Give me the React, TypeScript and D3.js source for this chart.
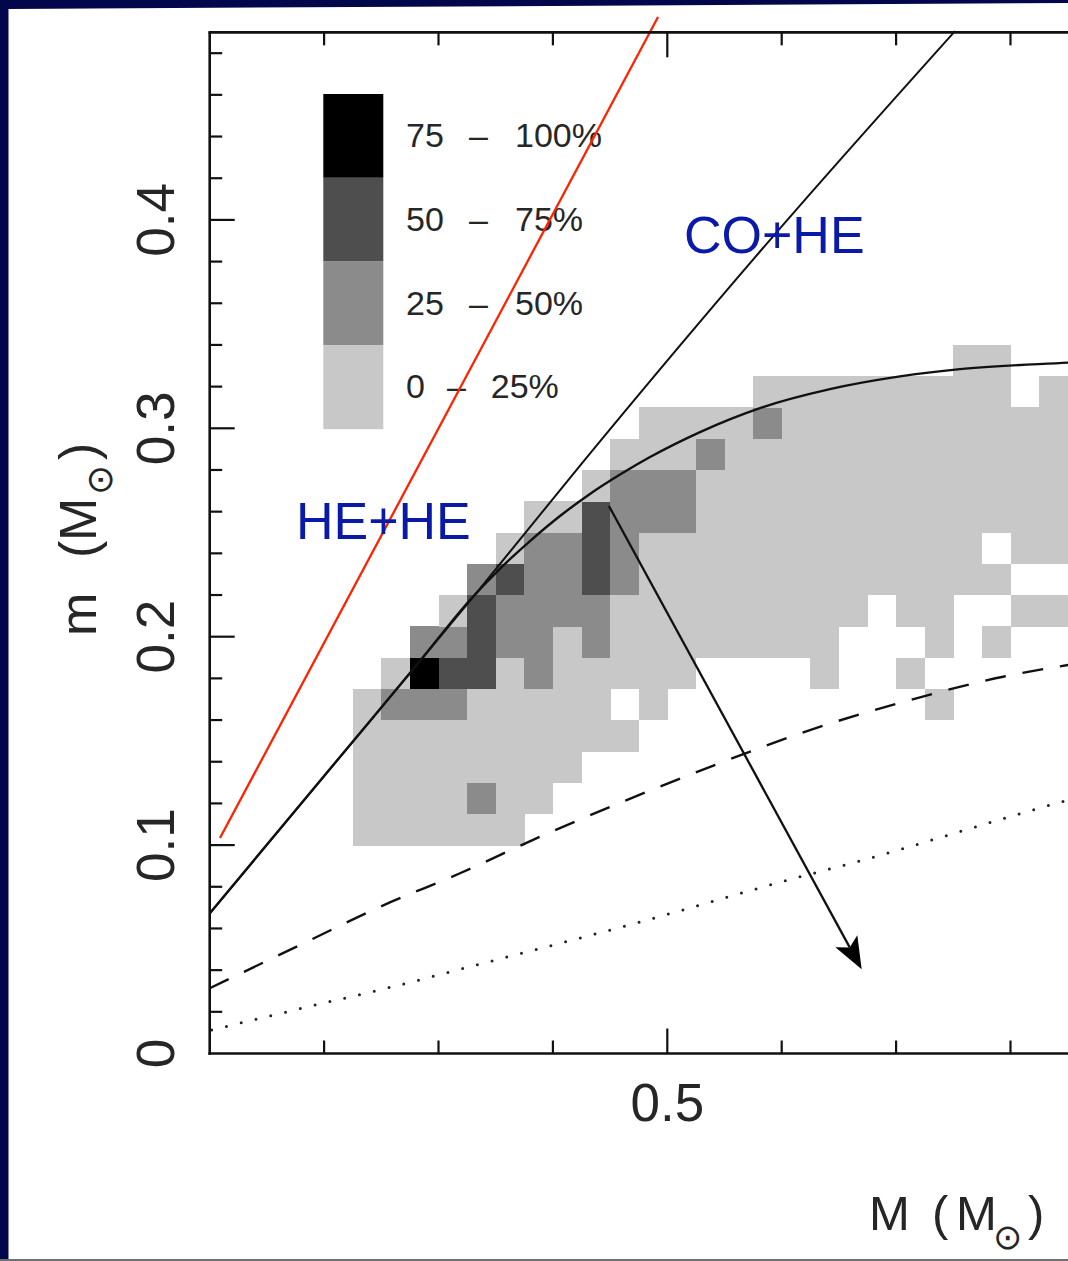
import React from 'react';
import * as d3 from 'd3';

// ---------- DATA ----------
// Heat map: rows from m = 0.100 upward (step 0.015), columns from M = 0.225 (step 0.025)
// '.' = no systems, 1 = 0-25%, 2 = 25-50%, 3 = 50-75%, 4 = 75-100%
const HEAT_M_START = 0.225;
const HEAT_M_STEP = 0.025;
const HEAT_m_START = 0.1;
const HEAT_m_STEP = 0.015;
const HEAT_ROWS: string[] = [
  '111111...................',
  '1111211..................',
  '11111111.................',
  '1111111111...............',
  '122211111.1.........1....',
  '.14331211111....1..1.....',
  '..223221211111111...1.1..',
  '...132222111111111.11..11',
  '....2322321111111111111..',
  '.....12232111111111111.11',
  '......1132221111111111111',
  '........12221111111111111',
  '.........1112111111111111',
  '..........111121111111111',
  '..............111111111.1',
  '.....................11..',
];

const LEVEL_COLORS = ['#c8c8c8', '#8b8b8b', '#4e4e4e', '#000000'];
const LEGEND_LOW = ['75', '50', '25', '0'];
const LEGEND_HIGH = ['100%', '75%', '50%', '25%'];
const LEGEND_LEVELS = [4, 3, 2, 1];

// curved solid line
const CURVE_M = [0.1003, 0.2139, 0.2838, 0.3275, 0.3538, 0.38, 0.4062, 0.4324, 0.4587, 0.4849, 0.5286, 0.581, 0.6422, 0.7034, 0.7559, 0.8503, 0.8783];
const CURVE_m = [0.0674, 0.1423, 0.1883, 0.2176, 0.2327, 0.2459, 0.2579, 0.2685, 0.2778, 0.2862, 0.2982, 0.3097, 0.3188, 0.3249, 0.3284, 0.3315, 0.3323];

// near-straight solid line
const LINE_M = [0.1003, 0.2139, 0.3302, 0.4255, 0.5942, 0.7515];
const LINE_m = [0.0674, 0.1423, 0.219, 0.2833, 0.3932, 0.4906];

// dashed line
const DASH_M = [0.1, 0.1848, 0.2489, 0.3188, 0.3887, 0.4645, 0.5461, 0.6247, 0.7121, 0.7935, 0.8503, 0.87];
const DASH_m = [0.0313, 0.0536, 0.0704, 0.0865, 0.104, 0.1216, 0.1394, 0.1552, 0.1696, 0.1808, 0.1864, 0.188];

// dotted line
const DOT_M = [0.1017, 0.1804, 0.2602, 0.3389, 0.4761, 0.6, 0.6656, 0.8503, 0.87];
const DOT_m = [0.0113, 0.0217, 0.0321, 0.0433, 0.0631, 0.0824, 0.092, 0.1216, 0.1245];

// red line
const RED_M = [0.109, 0.4919];
const RED_m = [0.1034, 0.4974];

// arrow
const ARROW_M = [0.449, 0.6699];
const ARROW_m = [0.2627, 0.0404];

const X_TICK_VALUES = [0.5];
const X_TICK_LABELS = ['0.5'];
const Y_TICK_VALUES = [0, 0.1, 0.2, 0.3, 0.4];
const Y_TICK_LABELS = ['0', '0.1', '0.2', '0.3', '0.4'];

const REGION_LABELS = ['HE+HE', 'CO+HE'];
const REGION_M = [0.1754, 0.5146];
const REGION_m = [0.2469, 0.3841];

// ---------- CHART ----------
const W = 1068;
const H = 1261;
const TEXT_FONT = "'Liberation Sans', Arial, Helvetica, sans-serif";
const INK = '#262626';

export default function App() {
  const x = d3.scaleLinear().domain([0.1, 1.0]).range([209.7, 209.7 + 0.9 * 1144]);
  const y = d3.scaleLinear().domain([0, 0.49]).range([1053.5, 1053.5 - 0.49 * 2084]);

  const x0 = x(0.1);
  const y0 = y(0);
  const yTop = y(0.49);

  const cells: React.ReactNode[] = [];
  HEAT_ROWS.forEach((row, j) => {
    for (let i = 0; i < row.length; i++) {
      const c = row[i];
      if (c < '1' || c > '4') continue;
      const lvl = +c;
      const M0 = HEAT_M_START + i * HEAT_M_STEP;
      const M1 = M0 + HEAT_M_STEP;
      const m0 = HEAT_m_START + j * HEAT_m_STEP;
      const m1 = m0 + HEAT_m_STEP;
      cells.push(
        <rect
          key={`c${i}-${j}`}
          x={x(M0)}
          y={y(m1)}
          width={x(M1) - x(M0) + 0.4}
          height={y(m0) - y(m1) + 0.4}
          fill={LEVEL_COLORS[lvl - 1]}
        />
      );
    }
  });

  const pts = (Ms: number[], ms: number[]) => Ms.map((M, i) => [M, ms[i]] as [number, number]);
  const smooth = d3
    .line<[number, number]>()
    .x((d) => x(d[0]))
    .y((d) => y(d[1]))
    .curve(d3.curveMonotoneX);
  const straight = d3
    .line<[number, number]>()
    .x((d) => x(d[0]))
    .y((d) => y(d[1]));

  // arrow geometry
  const ax0 = x(ARROW_M[0]);
  const ay0 = y(ARROW_m[0]);
  const ax1 = x(ARROW_M[1]);
  const ay1 = y(ARROW_m[1]);
  const len = Math.hypot(ax1 - ax0, ay1 - ay0);
  const ux = (ax1 - ax0) / len;
  const uy = (ay1 - ay0) / len;
  const nx = -uy;
  const ny = ux;
  const headLen = 32;
  const halfW = 12.5;
  const bx = ax1 - ux * headLen;
  const by = ay1 - uy * headLen;
  const kx = ax1 - ux * headLen * 0.78;
  const ky = ay1 - uy * headLen * 0.78;
  const head = `M${ax1},${ay1} L${bx + nx * halfW},${by + ny * halfW} L${kx},${ky} L${bx - nx * halfW},${by - ny * halfW} Z`;

  // ticks
  const bottomTicks = d3.range(2, 10).map((i) => ({ v: i / 10, major: i % 5 === 0 }));
  const leftTicks = d3.range(1, 25).map((i) => ({ v: i * 0.02, major: i % 5 === 0 }));

  // legend
  const legX = 323.3;
  const legTop = 94;
  const legH = 83.8;

  return (
    <svg
      width={W}
      height={H}
      style={{ position: 'absolute', left: 0, top: 0, display: 'block' }}
      xmlns="http://www.w3.org/2000/svg"
    >
      {/* frame */}
      <rect x={0} y={0} width={W} height={H} fill="#01074a" />
      <polygon points={`8.5,9 ${W},3 ${W},1259 8.5,1259`} fill="#ffffff" />
      <rect x={0} y={1259} width={W} height={2} fill="#707070" />

      {/* heat map */}
      <g shapeRendering="crispEdges">{cells}</g>

      {/* lines */}
      <path d={smooth(pts(CURVE_M, CURVE_m)) || ''} fill="none" stroke="#111" strokeWidth={2.4} />
      <path d={smooth(pts(LINE_M, LINE_m)) || ''} fill="none" stroke="#111" strokeWidth={2} />
      <path
        d={smooth(pts(DASH_M, DASH_m)) || ''}
        fill="none"
        stroke="#111"
        strokeWidth={2.4}
        strokeDasharray="21 17"
      />
      <path
        d={smooth(pts(DOT_M, DOT_m)) || ''}
        fill="none"
        stroke="#222"
        strokeWidth={3}
        strokeLinecap="round"
        strokeDasharray="0 15.2"
      />
      <line x1={ax0} y1={ay0} x2={kx} y2={ky} stroke="#111" strokeWidth={2.3} />
      <path d={head} fill="#000" />

      {/* legend */}
      {LEGEND_LEVELS.map((lvl, i) => (
        <rect
          key={`lg${i}`}
          x={legX}
          y={legTop + i * legH}
          width={60}
          height={legH}
          fill={LEVEL_COLORS[lvl - 1]}
        />
      ))}
      {LEGEND_LOW.map((lo, i) => {
        const shift = lo.length === 1 ? -22 : 0;
        const base = legTop + i * legH + 53;
        return (
          <text key={`lt${i}`} y={base} fontFamily={TEXT_FONT} fontSize={34} fill={INK}>
            <tspan x={406}>{lo}</tspan>
            <tspan x={469 + shift}>–</tspan>
            <tspan x={515 + shift * 1.1}>{LEGEND_HIGH[i]}</tspan>
          </text>
        );
      })}

      {/* red line */}
      <path d={straight(pts(RED_M, RED_m)) || ''} fill="none" stroke="#ff2200" strokeWidth={2.3} />

      {/* region labels */}
      {REGION_LABELS.map((t, i) => (
        <text
          key={`rl${i}`}
          x={x(REGION_M[i])}
          y={y(REGION_m[i])}
          fontFamily={TEXT_FONT}
          fontSize={52}
          fill="#0a1aa8"
        >
          {t}
        </text>
      ))}

      {/* axes */}
      <g stroke="#111" strokeWidth={2.6} fill="none">
        <line x1={x0} y1={yTop} x2={x0} y2={y0 + 1.3} />
        <line x1={x0 - 1.3} y1={y0} x2={W} y2={y0} />
        <line x1={x0 - 1.3} y1={yTop} x2={W} y2={yTop} />
      </g>
      <g stroke="#111" strokeWidth={2.2}>
        {bottomTicks.map((t, i) => (
          <g key={`bt${i}`}>
            <line x1={x(t.v)} x2={x(t.v)} y1={y0} y2={y0 - (t.major ? 25 : 13)} />
            <line x1={x(t.v)} x2={x(t.v)} y1={yTop} y2={yTop + (t.major ? 25 : 13)} />
          </g>
        ))}
        {leftTicks.map((t, i) => (
          <line key={`lt${i}`} x1={x0} x2={x0 + (t.major ? 25 : 12.5)} y1={y(t.v)} y2={y(t.v)} />
        ))}
      </g>

      {/* tick labels */}
      {X_TICK_VALUES.map((v, i) => (
        <text
          key={`xl${i}`}
          x={x(v)}
          y={1121}
          textAnchor="middle"
          fontFamily={TEXT_FONT}
          fontSize={53}
          fill={INK}
        >
          {X_TICK_LABELS[i]}
        </text>
      ))}
      {Y_TICK_VALUES.map((v, i) => (
        <text
          key={`yl${i}`}
          transform={`translate(174,${y(v)}) rotate(-90)`}
          textAnchor="middle"
          fontFamily={TEXT_FONT}
          fontSize={53}
          fill={INK}
        >
          {Y_TICK_LABELS[i]}
        </text>
      ))}

      {/* axis titles */}
      <text y={1230} fontFamily={TEXT_FONT} fontSize={49} fill={INK}>
        <tspan x={869}>M</tspan>
        <tspan x={932}>(</tspan>
        <tspan x={956}>M</tspan>
        <tspan x={993} y={1249} fontFamily="'DejaVu Sans', sans-serif" fontSize={35}>
          ⊙
        </tspan>
        <tspan x={1028} y={1230}>)</tspan>
      </text>
      <text transform="translate(96,636) rotate(-90)" fontFamily={TEXT_FONT} fontSize={52} fill={INK}>
        <tspan x={0} y={0}>m</tspan>
        <tspan x={78}>(</tspan>
        <tspan x={95}>M</tspan>
        <tspan x={141} y={16} fontFamily="'DejaVu Sans', sans-serif" fontSize={36}>
          ⊙
        </tspan>
        <tspan x={176} y={0}>)</tspan>
      </text>
    </svg>
  );
}
